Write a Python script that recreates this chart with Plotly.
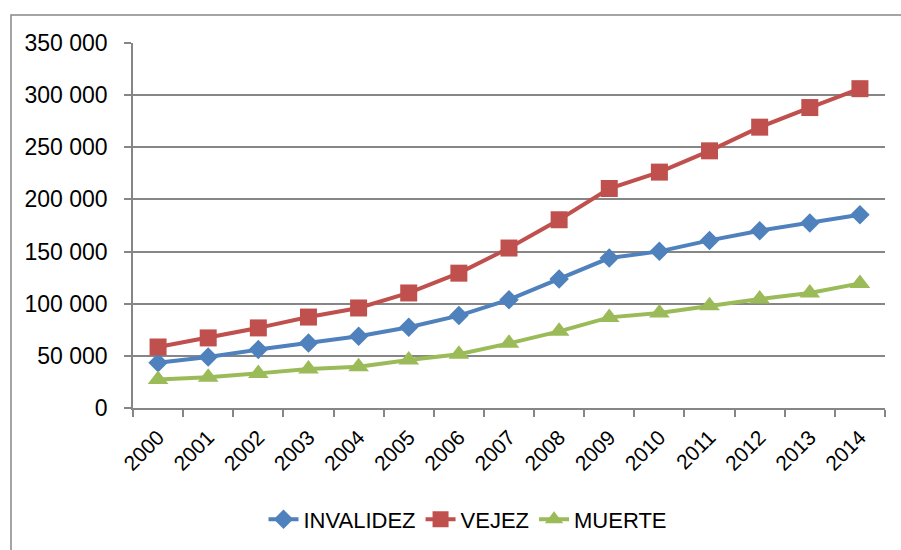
import plotly.graph_objects as go

years = [str(y) for y in range(2000, 2015)]
invalidez = [43300, 49000, 56000, 62400, 68800, 77400, 88600, 103900, 123700, 143800, 150200, 160700, 170000, 177300, 185300]
vejez = [58500, 67200, 76800, 87200, 95900, 110300, 129300, 153400, 180500, 210500, 226200, 246600, 269300, 288100, 306200]
muerte = [27300, 29500, 33200, 37500, 39500, 46000, 51500, 62000, 73500, 86900, 91200, 98000, 104600, 110300, 119500]
y_ticks = [0, 50000, 100000, 150000, 200000, 250000, 300000, 350000]
y_labels = ["0", "50 000", "100 000", "150 000", "200 000", "250 000", "300 000", "350 000"]

FONT = "Liberation Sans, Arial, sans-serif"

fig = go.Figure()
fig.add_trace(go.Scatter(x=years, y=invalidez, name="INVALIDEZ", mode="lines+markers",
                         line=dict(color="#4F81BD", width=4),
                         marker=dict(symbol="diamond", size=15, color="#4F81BD")))
fig.add_trace(go.Scatter(x=years, y=vejez, name="VEJEZ", mode="lines+markers",
                         line=dict(color="#C0504D", width=4),
                         marker=dict(symbol="square", size=17, color="#C0504D")))
fig.add_trace(go.Scatter(x=years, y=muerte, name="MUERTE", mode="lines+markers",
                         line=dict(color="#9BBB59", width=4),
                         marker=dict(symbol="triangle-up", size=18, color="#9BBB59")))

L, R, T, B = 133, 16, 43, 141.5
W, H = 901, 550
pw, ph = W - L - R, H - T - B

def px(x):
    return (x - L) / pw

def py(y):
    return (H - B - y) / ph

fig.update_layout(
    template="none",
    width=W, height=H,
    margin=dict(l=L, r=R, t=T, b=B, pad=0, autoexpand=False),
    paper_bgcolor="white", plot_bgcolor="white",
    font=dict(family=FONT, size=22, color="black"),
    showlegend=True,
    legend=dict(orientation="h", x=px(468), xanchor="center", y=py(520), yanchor="middle",
                font=dict(family=FONT, size=22, color="black"),
                itemwidth=30, tracegroupgap=0, bgcolor="rgba(0,0,0,0)", borderwidth=0),
    xaxis=dict(type="category", range=[-0.5, 14.5], tickangle=-45, automargin=False,
               tickson="boundaries", ticks="outside", ticklen=7, tickcolor="#868686", tickwidth=1.5,
               ticklabelstandoff=7,
               showline=True, linecolor="#868686", linewidth=1.5, showgrid=False, zeroline=False,
               tickfont=dict(family=FONT, size=21, color="black"), fixedrange=True),
    yaxis=dict(range=[0, 350000], tickvals=y_ticks, ticktext=y_labels, automargin=False,
               ticks="outside", ticklen=7, tickcolor="#868686", tickwidth=1.5,
               ticklabelstandoff=12,
               showline=True, linecolor="#868686", linewidth=1.5,
               showgrid=True, gridcolor="#868686", gridwidth=1.5, zeroline=False,
               tickfont=dict(family=FONT, size=23, color="black"), fixedrange=True),
    shapes=[dict(type="rect", xref="paper", yref="paper",
                 x0=px(11), x1=px(910), y0=py(560), y1=py(15),
                 line=dict(color="#868686", width=1.5), layer="below")],
)

fig.write_html("out.html", config={"displayModeBar": False},
               post_script="document.body.style.margin='0';document.body.style.overflow='hidden';")
